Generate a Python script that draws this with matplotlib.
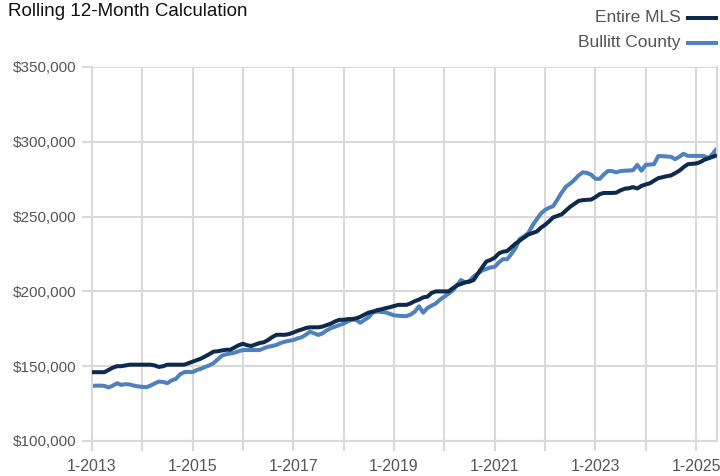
import matplotlib
matplotlib.use("Agg")
import matplotlib.pyplot as plt
import matplotlib.dates as mdates
import matplotlib.font_manager as fm
import numpy as np
import pandas as pd

# Monthly values, Jan 2013 .. Jun 2025, in thousands of dollars
mls_k = [146, 146, 146, 146, 147.5, 149, 150, 150, 150.5, 151,
         151, 151, 151, 151, 151, 150.5, 149.5, 150, 151, 151,
         151, 151, 151, 152, 153, 154, 155, 156.5, 158, 159.7,
         160, 160.5, 161, 161, 162.5, 164, 165, 164, 163.5, 164.5,
         165.5, 166, 167.5, 169.5, 171, 171, 171, 171.5, 172.5, 173.7,
         174.5, 175.5, 176, 176, 176, 176.5, 177.5, 178.5, 180, 181,
         181, 181.5, 181.5, 182, 183, 184.5, 185.8, 186.5, 187.5, 188,
         188.8, 189.4, 190.2, 191, 191, 191, 192, 193.5, 194.5, 196,
         196.5, 199, 200, 200, 200, 200, 202, 204, 205, 206,
         206.5, 207.6, 212, 216, 220, 221, 222.6, 225.5, 226.5, 227,
         229.5, 232, 234, 236, 238, 239, 240, 242.5, 244.5, 247,
         249.5, 250.5, 251.5, 254, 256.5, 258.5, 260.5, 261, 261.2, 261.4,
         263, 265, 265.8, 265.8, 265.8, 266, 267.5, 268.6, 269, 269.7,
         268.8, 270.5, 271.5, 272.3, 274, 275.7, 276.3, 277, 277.5, 279,
         280.7, 283, 285, 285.3, 285.5, 286.5, 288, 289, 290, 291]

bullitt_k = [136.8, 137, 137, 136.8, 135.8, 137, 138.6, 137.5, 138, 137.8,
             137, 136.5, 136.2, 136, 137, 138.5, 139.7, 139.5, 138.6, 140.5,
             141.5, 144.5, 146, 146.2, 146, 147.5, 148.2, 149.5, 150.5, 152,
             154.5, 157, 158, 158.5, 159, 160, 160.8, 160.8, 160.8, 160.8,
             160.8, 162, 163, 163.5, 164.3, 165.5, 166.4, 167, 167.5, 168.6,
             169.3, 171, 173, 172, 170.9, 172, 174, 175.5, 176.5, 177.5,
             178.5, 180, 181, 181, 179, 181, 182.7, 186, 186.5, 186.3,
             186, 185, 184, 183.7, 183.5, 183.5, 184.5, 186.5, 190, 185.8,
             189, 190.5, 192, 194.5, 196.5, 198.5, 200.5, 204, 207.6, 206,
             207, 210, 212, 214, 215, 216, 216.5, 219.5, 221.5, 221.5,
             225, 229, 235, 236.8, 239, 244, 248.2, 252, 254.5, 256,
             257, 261.5, 266, 270, 272, 274.5, 277.5, 279.6, 279.2, 278,
             275.3, 275.2, 278, 280.5, 280.4, 279.6, 280.4, 280.7, 280.8, 281,
             284.6, 280.7, 284.6, 284.8, 285, 290.5, 290.4, 290.2, 290, 288.4,
             290, 292, 290.6, 290.6, 290.6, 290.6, 290.4, 289, 292, 295.6]

series_names = ["Entire MLS", "Bullitt County"]
y_ticks = [100000, 150000, 200000, 250000, 300000, 350000]
x_tick_years = [2013, 2015, 2017, 2019, 2021, 2023, 2025]
title_text = "Rolling 12-Month Calculation"

dates = pd.date_range("2013-01-01", periods=len(mls_k), freq="MS")
mls = np.array(mls_k) * 1000
bullitt = np.array(bullitt_k) * 1000

names = {f.name for f in fm.fontManager.ttflist}
fam = ["Liberation Sans Narrow", "DejaVu Sans"] if "Liberation Sans Narrow" in names else ["Liberation Sans", "DejaVu Sans"]
plt.rcParams['font.family'] = fam

DARK = "#0e2a4d"
BLUE = "#4f81bd"
GRID = "#d9d9d9"
TXT = "#555555"
LW = 2.9

fig = plt.figure(figsize=(7.2, 4.76), dpi=100)
ax = fig.add_axes([92/720, 35/476, (717-92)/720, (441-67)/476])

ax.plot(dates, mls, color=DARK, lw=LW, solid_capstyle="butt", zorder=3)
ax.plot(dates, bullitt, color=BLUE, lw=LW, solid_capstyle="butt", zorder=2)

ax.set_ylim(100000, 350000)
ax.set_yticks(y_ticks)
ax.yaxis.set_major_formatter(matplotlib.ticker.FuncFormatter(lambda v, p: f"${v:,.0f}"))
ax.set_xlim(dates[0], dates[-1])

major = [pd.Timestamp(f"{y}-01-01") for y in x_tick_years]
minor = [pd.Timestamp(f"{y}-01-01") for y in range(2013, 2026)]
ax.set_xticks(mdates.date2num(major))
ax.set_xticks(mdates.date2num(minor), minor=True)
ax.xaxis.set_major_formatter(mdates.DateFormatter("1-%Y"))

ax.grid(True, which="both", axis="x", color=GRID, lw=1.5)
ax.grid(True, which="major", axis="y", color=GRID, lw=1.5)
ax.set_axisbelow(True)
ax.spines["top"].set_visible(False)
for s in ["left", "bottom", "right"]:
    ax.spines[s].set_color(GRID)
    ax.spines[s].set_linewidth(1.5)

ax.tick_params(axis="both", which="both", color=GRID, width=1.5, length=7,
               labelcolor=TXT)
ax.tick_params(axis="x", labelsize=11.5, pad=6)
ax.tick_params(axis="y", labelsize=11, pad=4)

fig.text(8/720, 1 - 12/476, title_text, fontsize=13.5, color="#111111",
         ha="left", va="center")

# legend (text right-aligned, line to the right)
for i, (nm, col) in enumerate(zip(series_names, [DARK, BLUE])):
    yy = 1 - (17 + 25 * i) / 476
    fig.text(681/720, yy, nm, fontsize=12.5, color=TXT, ha="right", va="center")
    fig.add_artist(matplotlib.lines.Line2D([688/720, 716/720], [yy - 1/476, yy - 1/476],
                                           color=col, lw=LW, transform=fig.transFigure))

fig.savefig("out.png", dpi=100, facecolor="white")
